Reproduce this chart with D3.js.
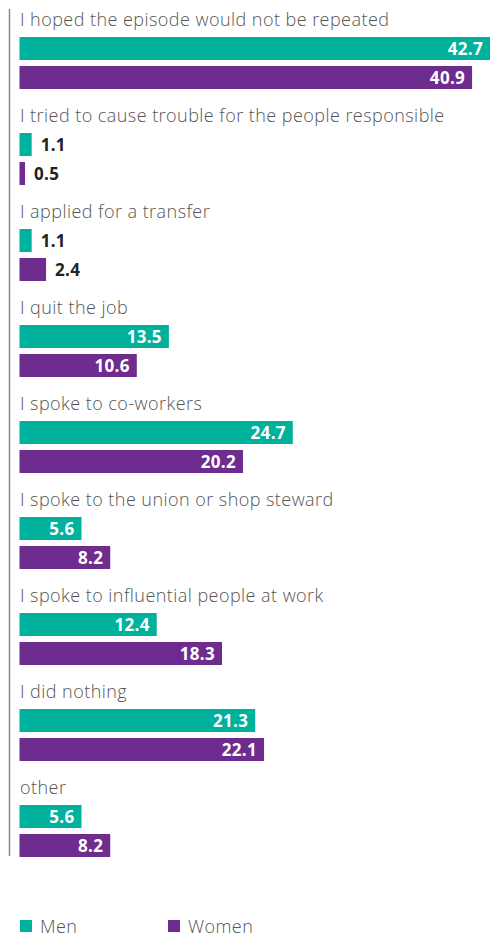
<!DOCTYPE html>
<html>
<head>
<meta charset="utf-8">
<script src="https://cdnjs.cloudflare.com/ajax/libs/d3/7.8.5/d3.min.js"></script>
<style>
  body { margin: 0; background: #fff; }
  svg { display: block; }
</style>
</head>
<body>
<div id="chart"><svg></svg></div>
<script>
// data
var categories = [
  "I hoped the episode would not be repeated",
  "I tried to cause trouble for the people responsible",
  "I applied for a transfer",
  "I quit the job",
  "I spoke to co-workers",
  "I spoke to the union or shop steward",
  "I spoke to influential people at work",
  "I did nothing",
  "other"
];
var men   = [42.7, 1.1, 1.1, 13.5, 24.7, 5.6, 12.4, 21.3, 5.6];
var women = [40.9, 0.5, 2.4, 10.6, 20.2, 8.2, 18.3, 22.1, 8.2];
var seriesNames = ["Men", "Women"];
var colors = ["#00b29b", "#6f2c8f"];

var width = 490, height = 937;

var svg = d3.select("#chart > svg")
    .attr("width", width)
    .attr("height", height);

// x scale: value -> pixels, bars start at 19.5
var x = d3.scaleLinear().domain([0, 42.7]).range([19.5, 492]);

// one band per question, each band has a label row + two bars
var y = d3.scaleBand()
    .domain(categories)
    .range([0, 96 * categories.length])
    .paddingInner(0);

var rows = categories.map(function(c, i) {
  return { cat: c, values: [men[i], women[i]] };
});

// left axis line
svg.append("line")
    .attr("x1", 9.5).attr("x2", 9.5)
    .attr("y1", 9).attr("y2", y(categories[categories.length - 1]) + 96 - 8)
    .style("stroke", "#8a8a8a")
    .style("stroke-width", 1.5);

var group = svg.selectAll("g.row")
    .data(rows)
  .enter().append("g")
    .attr("class", "row")
    .attr("transform", function(d) { return "translate(0," + y(d.cat) + ")"; });

group.append("text")
    .attr("x", 20)
    .attr("y", 26)
    .text(function(d) { return d.cat; })
    .style("font-family", "'Open Sans', sans-serif")
    .style("font-weight", 300)
    .style("font-size", "18px")
    .style("letter-spacing", "0.45px")
    .style("fill", "#555");

var barH = 23;
var barTop = [37, 66];

group.each(function(d) {
  var g = d3.select(this);
  d.values.forEach(function(v, j) {
    g.append("rect")
        .attr("x", x(0))
        .attr("y", barTop[j])
        .attr("width", x(v) - x(0))
        .attr("height", barH)
        .style("fill", colors[j]);

    var inside = (x(v) - x(0)) > 45;
    g.append("text")
        .attr("x", inside ? Math.min(x(v), width) - 7 : x(v) + 9)
        .attr("y", barTop[j] + barH / 2)
        .attr("dy", "0.36em")
        .attr("text-anchor", inside ? "end" : "start")
        .text(v.toFixed(1))
        .style("font-family", "'Open Sans', sans-serif")
        .style("font-weight", 700)
        .style("font-size", "17px")
        .style("letter-spacing", "0.3px")
        .style("fill", inside ? "#fff" : "#222");
  });
});

// legend
var legend = svg.selectAll("g.legend")
    .data(seriesNames)
  .enter().append("g")
    .attr("class", "legend")
    .attr("transform", function(d, i) { return "translate(" + (20 + i * 148) + ",920)"; });

legend.append("rect")
    .attr("width", 12)
    .attr("height", 12)
    .style("fill", function(d, i) { return colors[i]; });

legend.append("text")
    .attr("x", 20)
    .attr("y", 13)
    .text(function(d) { return d; })
    .style("font-family", "'Open Sans', sans-serif")
    .style("font-weight", 300)
    .style("font-size", "18px")
    .style("letter-spacing", "0.45px")
    .style("fill", "#555");
</script>
</body>
</html>
